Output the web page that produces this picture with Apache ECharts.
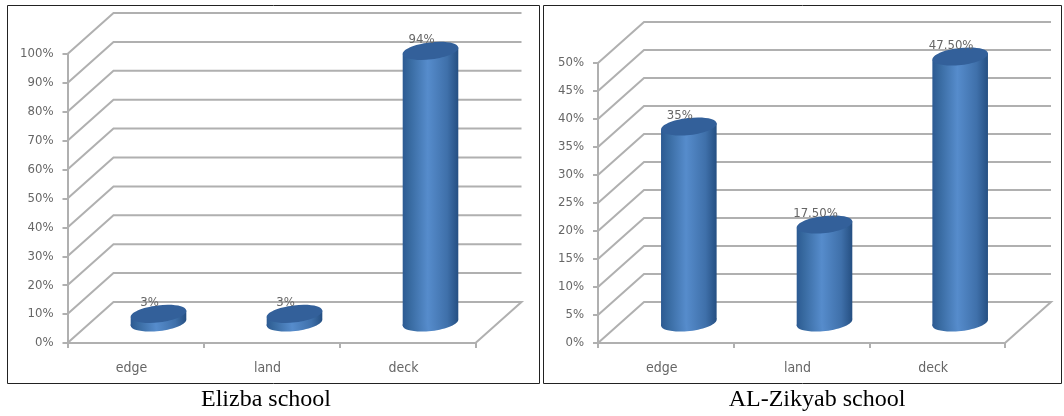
<!DOCTYPE html>
<html>
<head>
<meta charset="utf-8">
<style>html,body{margin:0;padding:0;background:#fff}#c{width:1064px;height:416px}</style>
<script src="https://cdn.jsdelivr.net/npm/echarts@6/dist/echarts.min.js"></script>
</head>
<body>
<div id="c"></div>
<script>
const categories = ['edge', 'land', 'deck'];
const leftValues = [3, 3, 94];
const leftLabels = ['3%', '3%', '94%'];
const rightValues = [35, 17.5, 47.5];
const rightLabels = ['35%', '17.50%', '47.50%'];
const leftTicks = [0, 10, 20, 30, 40, 50, 60, 70, 80, 90, 100];
const rightTicks = [0, 5, 10, 15, 20, 25, 30, 35, 40, 45, 50];
const leftTitle = 'Elizba school';
const rightTitle = 'AL-Zikyab school';

const DX = 46, DY = -41;
const LINE = '#b0b0b0', TXT = '#666';
const FONT = '"DejaVu Sans Condensed","Liberation Sans",sans-serif';

function wallLines(values) {
  return {
    type: 'custom', silent: true, z: 1, clip: false,
    data: values.map(v => [0, v]),
    renderItem(params, api) {
      const p = api.coord([0, api.value(1)]);
      const band = api.size([1, 0])[0];
      const x0 = p[0] - band / 2, y0 = p[1];
      const x1 = x0 + band * 3;
      const pts = [[x0, y0], [x0 + DX, y0 + DY], [x1 + DX, y0 + DY]];
      if (api.value(1) === 0) pts.push([x1, y0]);
      return { type: 'polyline', shape: { points: pts }, style: { fill: null, stroke: LINE, lineWidth: 2 } };
    }
  };
}

function cylinders(values, labels, idx) {
  return {
    type: 'custom', silent: true, z: 3, clip: false,
    xAxisIndex: idx, yAxisIndex: idx,
    data: values.map((v, i) => [i, v]),
    renderItem(params, api) {
      const top = api.coord([api.value(0), api.value(1)]);
      const base = api.coord([api.value(0), 0]);
      const cx = top[0] + DX / 2, ty = top[1] + DY / 2, by = base[1] + DY / 2;
      const rx = 28, ry = 8.5, tilt = 0.12;
      const h = rx * Math.sin(tilt), w = rx * Math.cos(tilt);
      const grad = new echarts.graphic.LinearGradient(0, 0, 1, 0, [
        { offset: 0, color: '#2c5a92' }, { offset: 0.12, color: '#37699f' },
        { offset: 0.45, color: '#568ccc' }, { offset: 0.8, color: '#3f70aa' },
        { offset: 1, color: '#254f82' }
      ]);
      return {
        type: 'group',
        children: [
          { type: 'ellipse', x: cx, y: by, rotation: tilt, shape: { cx: 0, cy: 0, rx, ry }, style: { fill: grad } },
          { type: 'polygon', shape: { points: [[cx - w, ty + h], [cx + w, ty - h], [cx + w, by - h], [cx - w, by + h]] }, style: { fill: grad } },
          { type: 'ellipse', x: cx, y: ty, rotation: tilt, shape: { cx: 0, cy: 0, rx, ry }, style: { fill: '#33609a' } },
          { type: 'text', z2: 5, style: { x: cx - 9, y: ty - 11, text: labels[params.dataIndex], fill: TXT, font: '13px ' + FONT, align: 'center', verticalAlign: 'middle' } }
        ]
      };
    }
  };
}

function xAxis(i) {
  return {
    type: 'category', gridIndex: i, data: categories,
    axisLine: { lineStyle: { color: LINE, width: 2 } },
    axisTick: { show: true, alignWithLabel: false, length: 5, lineStyle: { color: LINE, width: 2 } },
    axisLabel: { color: TXT, fontFamily: FONT, fontSize: 14, margin: 18, padding: [0, 8, 0, 0] }
  };
}
function yAxis(i, max, interval) {
  return {
    type: 'value', gridIndex: i, min: 0, max, interval,
    axisLine: { show: true, lineStyle: { color: LINE, width: 2 } },
    axisTick: { show: true, length: 5, lineStyle: { color: LINE, width: 2 } },
    axisLabel: { color: TXT, fontFamily: FONT, fontSize: 13, margin: 14, padding: [4, 0, 0, 0], formatter: '{value}%' },
    splitLine: { show: false }
  };
}
function frame(x, y, w, h) {
  return { type: 'rect', silent: true, z: 0, shape: { x: x + 0.5, y: y + 0.5, width: w, height: h }, style: { fill: null, stroke: '#222', lineWidth: 1 } };
}
function caption(text, x) {
  return { type: 'text', silent: true, style: { x, y: 400, text, fill: '#000', font: '24px "Liberation Serif","Times New Roman",serif', align: 'center', verticalAlign: 'middle' } };
}

const chart = echarts.init(document.getElementById('c'), null, { renderer: 'canvas' });
chart.setOption({
  animation: false,
  backgroundColor: '#fff',
  grid: [
    { left: 67.5, top: 54, width: 408, height: 289 },
    { left: 598, top: 63, width: 407, height: 280 }
  ],
  xAxis: [xAxis(0), xAxis(1)],
  yAxis: [yAxis(0, 100, 10), yAxis(1, 50, 5)],
  series: [
    Object.assign(wallLines(leftTicks), { xAxisIndex: 0, yAxisIndex: 0 }),
    Object.assign(wallLines(rightTicks), { xAxisIndex: 1, yAxisIndex: 1 }),
    cylinders(leftValues, leftLabels, 0),
    cylinders(rightValues, rightLabels, 1)
  ],
  graphic: [
    frame(7, 5, 532, 378),
    frame(543, 5, 518, 378),
    caption(leftTitle, 266),
    caption(rightTitle, 817)
  ]
});
</script>
</body>
</html>
